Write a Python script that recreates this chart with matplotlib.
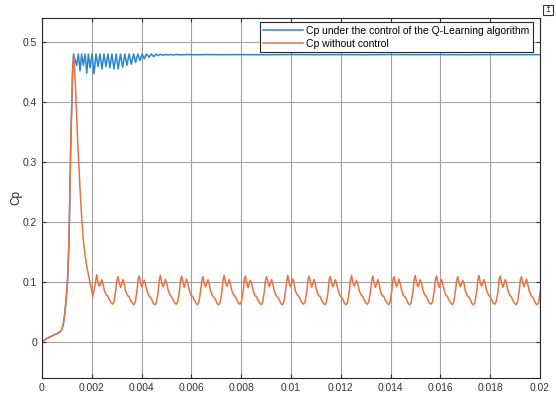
import numpy as np
import matplotlib.pyplot as plt
from matplotlib.patches import Rectangle

plt.rcParams['font.family'] = ['Liberation Sans', 'DejaVu Sans']

# start-up: both cases climb together until Cp reaches its maximum
rise_t = [0, 0.0001, 0.0002, 0.0003, 0.0004, 0.0005, 0.0006, 0.0007, 0.00079,
          0.00086, 0.00092, 0.00098, 0.00103, 0.00107, 0.0011, 0.00113,
          0.00116, 0.0012, 0.00123, 0.00127]
rise_v = [0, 0.003, 0.006, 0.008, 0.010, 0.012, 0.014, 0.016, 0.020,
          0.030, 0.049, 0.075, 0.104, 0.150, 0.199, 0.270,
          0.338, 0.400, 0.450, 0.480]

# with Q-learning control: Cp held near the optimum
ql_t = [0.00139, 0.00146, 0.00153, 0.00159, 0.00166, 0.00173, 0.00180, 0.00186,
        0.00193, 0.00201, 0.00209, 0.00217, 0.00225, 0.00233, 0.00241, 0.00249,
        0.00257, 0.00265, 0.00273, 0.00281, 0.00289, 0.00298, 0.00306, 0.00315,
        0.00324, 0.00333, 0.00341, 0.00350, 0.00359, 0.00368, 0.00376, 0.00385,
        0.00394, 0.00402, 0.00411, 0.00420, 0.00430, 0.00439, 0.00449, 0.00458,
        0.00467, 0.00477, 0.00487, 0.00497, 0.00507, 0.00517, 0.00527, 0.0054,
        0.0056, 0.0058, 0.0062, 0.0066, 0.007, 0.008, 0.009, 0.010, 0.011,
        0.012, 0.013, 0.014, 0.015, 0.016, 0.017, 0.018, 0.019, 0.020]
ql_v = [0.461, 0.480, 0.452, 0.480, 0.461, 0.480, 0.448, 0.480,
        0.457, 0.480, 0.447, 0.480, 0.459, 0.480, 0.455, 0.480,
        0.459, 0.480, 0.457, 0.480, 0.455, 0.480, 0.455, 0.480,
        0.458, 0.480, 0.461, 0.480, 0.463, 0.480, 0.466, 0.480,
        0.469, 0.480, 0.472, 0.480, 0.4745, 0.480, 0.4755, 0.4798,
        0.4775, 0.4795, 0.478, 0.4794, 0.4782, 0.4793, 0.4784, 0.4792,
        0.4786, 0.4791, 0.4788, 0.4791, 0.4789, 0.4790, 0.4788, 0.4791, 0.4789,
        0.4790, 0.4788, 0.4791, 0.4789, 0.4790, 0.4788, 0.4790, 0.4789, 0.4789]

# without control: collapse after the peak
fall_t = [0.00131, 0.00135, 0.00139, 0.00143, 0.00148, 0.00153, 0.00160,
          0.00166, 0.00173, 0.00180, 0.00187, 0.00193, 0.00199, 0.00204, 0.00212]
fall_v = [0.455, 0.421, 0.380, 0.338, 0.295, 0.254, 0.205,
          0.171, 0.145, 0.126, 0.111, 0.099, 0.088, 0.076, 0.092]

# steady ripple without control, one row per period (starting at each peak)
ripple_start = 0.00220
ripple_period = 0.000853
ripple_offsets = [0, 0.048e-3, 0.104e-3, 0.145e-3, 0.201e-3, 0.249e-3, 0.305e-3,
                  0.386e-3, 0.442e-3, 0.490e-3, 0.570e-3, 0.635e-3, 0.691e-3,
                  0.763e-3, 0.811e-3]
ripple_rows = [
    [0.112, 0.100, 0.093, 0.097, 0.104, 0.097, 0.086, 0.078, 0.077, 0.072, 0.066, 0.063, 0.067, 0.086, 0.103],
    [0.109, 0.099, 0.091, 0.096, 0.104, 0.098, 0.085, 0.077, 0.076, 0.071, 0.065, 0.062, 0.066, 0.085, 0.104],
    [0.110, 0.100, 0.092, 0.097, 0.103, 0.097, 0.086, 0.077, 0.075, 0.072, 0.064, 0.062, 0.066, 0.084, 0.105],
    [0.111, 0.099, 0.092, 0.096, 0.104, 0.098, 0.087, 0.078, 0.076, 0.072, 0.065, 0.063, 0.067, 0.085, 0.104],
    [0.110, 0.100, 0.091, 0.097, 0.105, 0.097, 0.086, 0.077, 0.076, 0.071, 0.065, 0.062, 0.066, 0.086, 0.103],
    [0.109, 0.099, 0.092, 0.096, 0.104, 0.098, 0.085, 0.077, 0.075, 0.072, 0.064, 0.062, 0.066, 0.085, 0.104],
    [0.111, 0.100, 0.093, 0.097, 0.104, 0.097, 0.086, 0.078, 0.076, 0.072, 0.065, 0.063, 0.067, 0.084, 0.105],
    [0.110, 0.099, 0.091, 0.096, 0.103, 0.098, 0.087, 0.077, 0.076, 0.071, 0.065, 0.062, 0.066, 0.085, 0.104],
    [0.109, 0.100, 0.092, 0.097, 0.104, 0.097, 0.086, 0.077, 0.075, 0.072, 0.064, 0.062, 0.066, 0.086, 0.103],
    [0.111, 0.099, 0.092, 0.096, 0.105, 0.098, 0.085, 0.078, 0.076, 0.072, 0.065, 0.063, 0.067, 0.085, 0.104],
    [0.110, 0.100, 0.091, 0.097, 0.104, 0.097, 0.086, 0.077, 0.076, 0.071, 0.065, 0.062, 0.066, 0.084, 0.105],
    [0.109, 0.099, 0.092, 0.096, 0.104, 0.098, 0.087, 0.077, 0.075, 0.072, 0.064, 0.062, 0.066, 0.085, 0.104],
    [0.111, 0.100, 0.093, 0.097, 0.103, 0.097, 0.086, 0.078, 0.076, 0.072, 0.065, 0.063, 0.067, 0.086, 0.103],
    [0.110, 0.099, 0.091, 0.096, 0.104, 0.098, 0.085, 0.077, 0.076, 0.071, 0.065, 0.062, 0.066, 0.085, 0.104],
    [0.109, 0.100, 0.092, 0.097, 0.105, 0.097, 0.086, 0.077, 0.075, 0.072, 0.064, 0.062, 0.066, 0.084, 0.105],
    [0.111, 0.099, 0.092, 0.096, 0.104, 0.098, 0.087, 0.078, 0.076, 0.072, 0.065, 0.063, 0.067, 0.085, 0.104],
    [0.110, 0.100, 0.091, 0.097, 0.104, 0.097, 0.086, 0.077, 0.076, 0.071, 0.065, 0.062, 0.066, 0.086, 0.103],
    [0.109, 0.099, 0.092, 0.096, 0.103, 0.098, 0.085, 0.077, 0.075, 0.072, 0.064, 0.062, 0.066, 0.085, 0.104],
    [0.111, 0.100, 0.093, 0.097, 0.104, 0.097, 0.086, 0.078, 0.076, 0.072, 0.065, 0.063, 0.067, 0.084, 0.105],
    [0.110, 0.099, 0.091, 0.096, 0.104, 0.098, 0.087, 0.077, 0.076, 0.071, 0.065, 0.062, 0.066, 0.085, 0.104],
    [0.109, 0.100, 0.092, 0.097, 0.105, 0.097, 0.086, 0.077, 0.075, 0.072, 0.064, 0.062, 0.066, 0.086, 0.103],
]

labels = ['Cp under the control of the Q-Learning algorithm', 'Cp without control']
xticks = [0, 0.002, 0.004, 0.006, 0.008, 0.01, 0.012, 0.014, 0.016, 0.018, 0.02]
xticklabels = ['0', '0.002', '0.004', '0.006', '0.008', '0.01', '0.012',
               '0.014', '0.016', '0.018', '0.02']
yticks = [0, 0.1, 0.2, 0.3, 0.4, 0.5]
yticklabels = ['0', '0.1', '0.2', '0.3', '0.4', '0.5']

# assemble the two series
t_q = np.array(rise_t + ql_t)
v_q = np.array(rise_v + ql_v)

rip_t, rip_v = [], []
for k, row in enumerate(ripple_rows):
    base = ripple_start + k * ripple_period
    rip_t += [base + o for o in ripple_offsets]
    rip_v += row
t_n = np.array(rise_t + fall_t + rip_t)
v_n = np.array(rise_v + fall_v + rip_v)

fig = plt.figure(figsize=(5.56, 3.96), dpi=100)
ax = fig.add_axes([0.0755, 0.0455, 0.8955, 0.909])

ax.plot(t_q, v_q, color='#2A86CF', lw=1.1, label=labels[0])
ax.plot(t_n, v_n, color='#EA7240', lw=1.1, label=labels[1])

ax.set_xlim(0, 0.02)
ax.set_ylim(-0.06, 0.54)
ax.set_xticks(xticks)
ax.set_xticklabels(xticklabels)
ax.set_yticks(yticks)
ax.set_yticklabels(yticklabels)
ax.grid(True, color='#a0a0a0', lw=0.8)
ax.set_axisbelow(True)
ax.tick_params(direction='in', length=3, width=0.8, top=True, right=True,
               labelsize=7.4, colors='#333333', pad=3.5)
for s in ax.spines.values():
    s.set_color('#262626')
    s.set_linewidth(0.8)
ax.set_ylabel('Cp', fontsize=8.5, color='#262626', labelpad=0)

leg = ax.legend(loc='upper right', bbox_to_anchor=(0.986, 0.989),
                fontsize=7.5, fancybox=False, framealpha=1,
                edgecolor='#262626', handlelength=3.8, handletextpad=0.3,
                borderpad=0.35, labelspacing=0.3, borderaxespad=0)
leg.get_frame().set_linewidth(0.8)

# export button in the corner
fig.patches.append(Rectangle((0.9775, 0.963), 0.017, 0.024, transform=fig.transFigure,
                             fill=False, edgecolor='#333333', lw=0.8))
fig.text(0.986, 0.975, '↥', ha='center', va='center', fontsize=6,
         family='DejaVu Sans', color='#333333')

fig.savefig('out.png', dpi=100)
